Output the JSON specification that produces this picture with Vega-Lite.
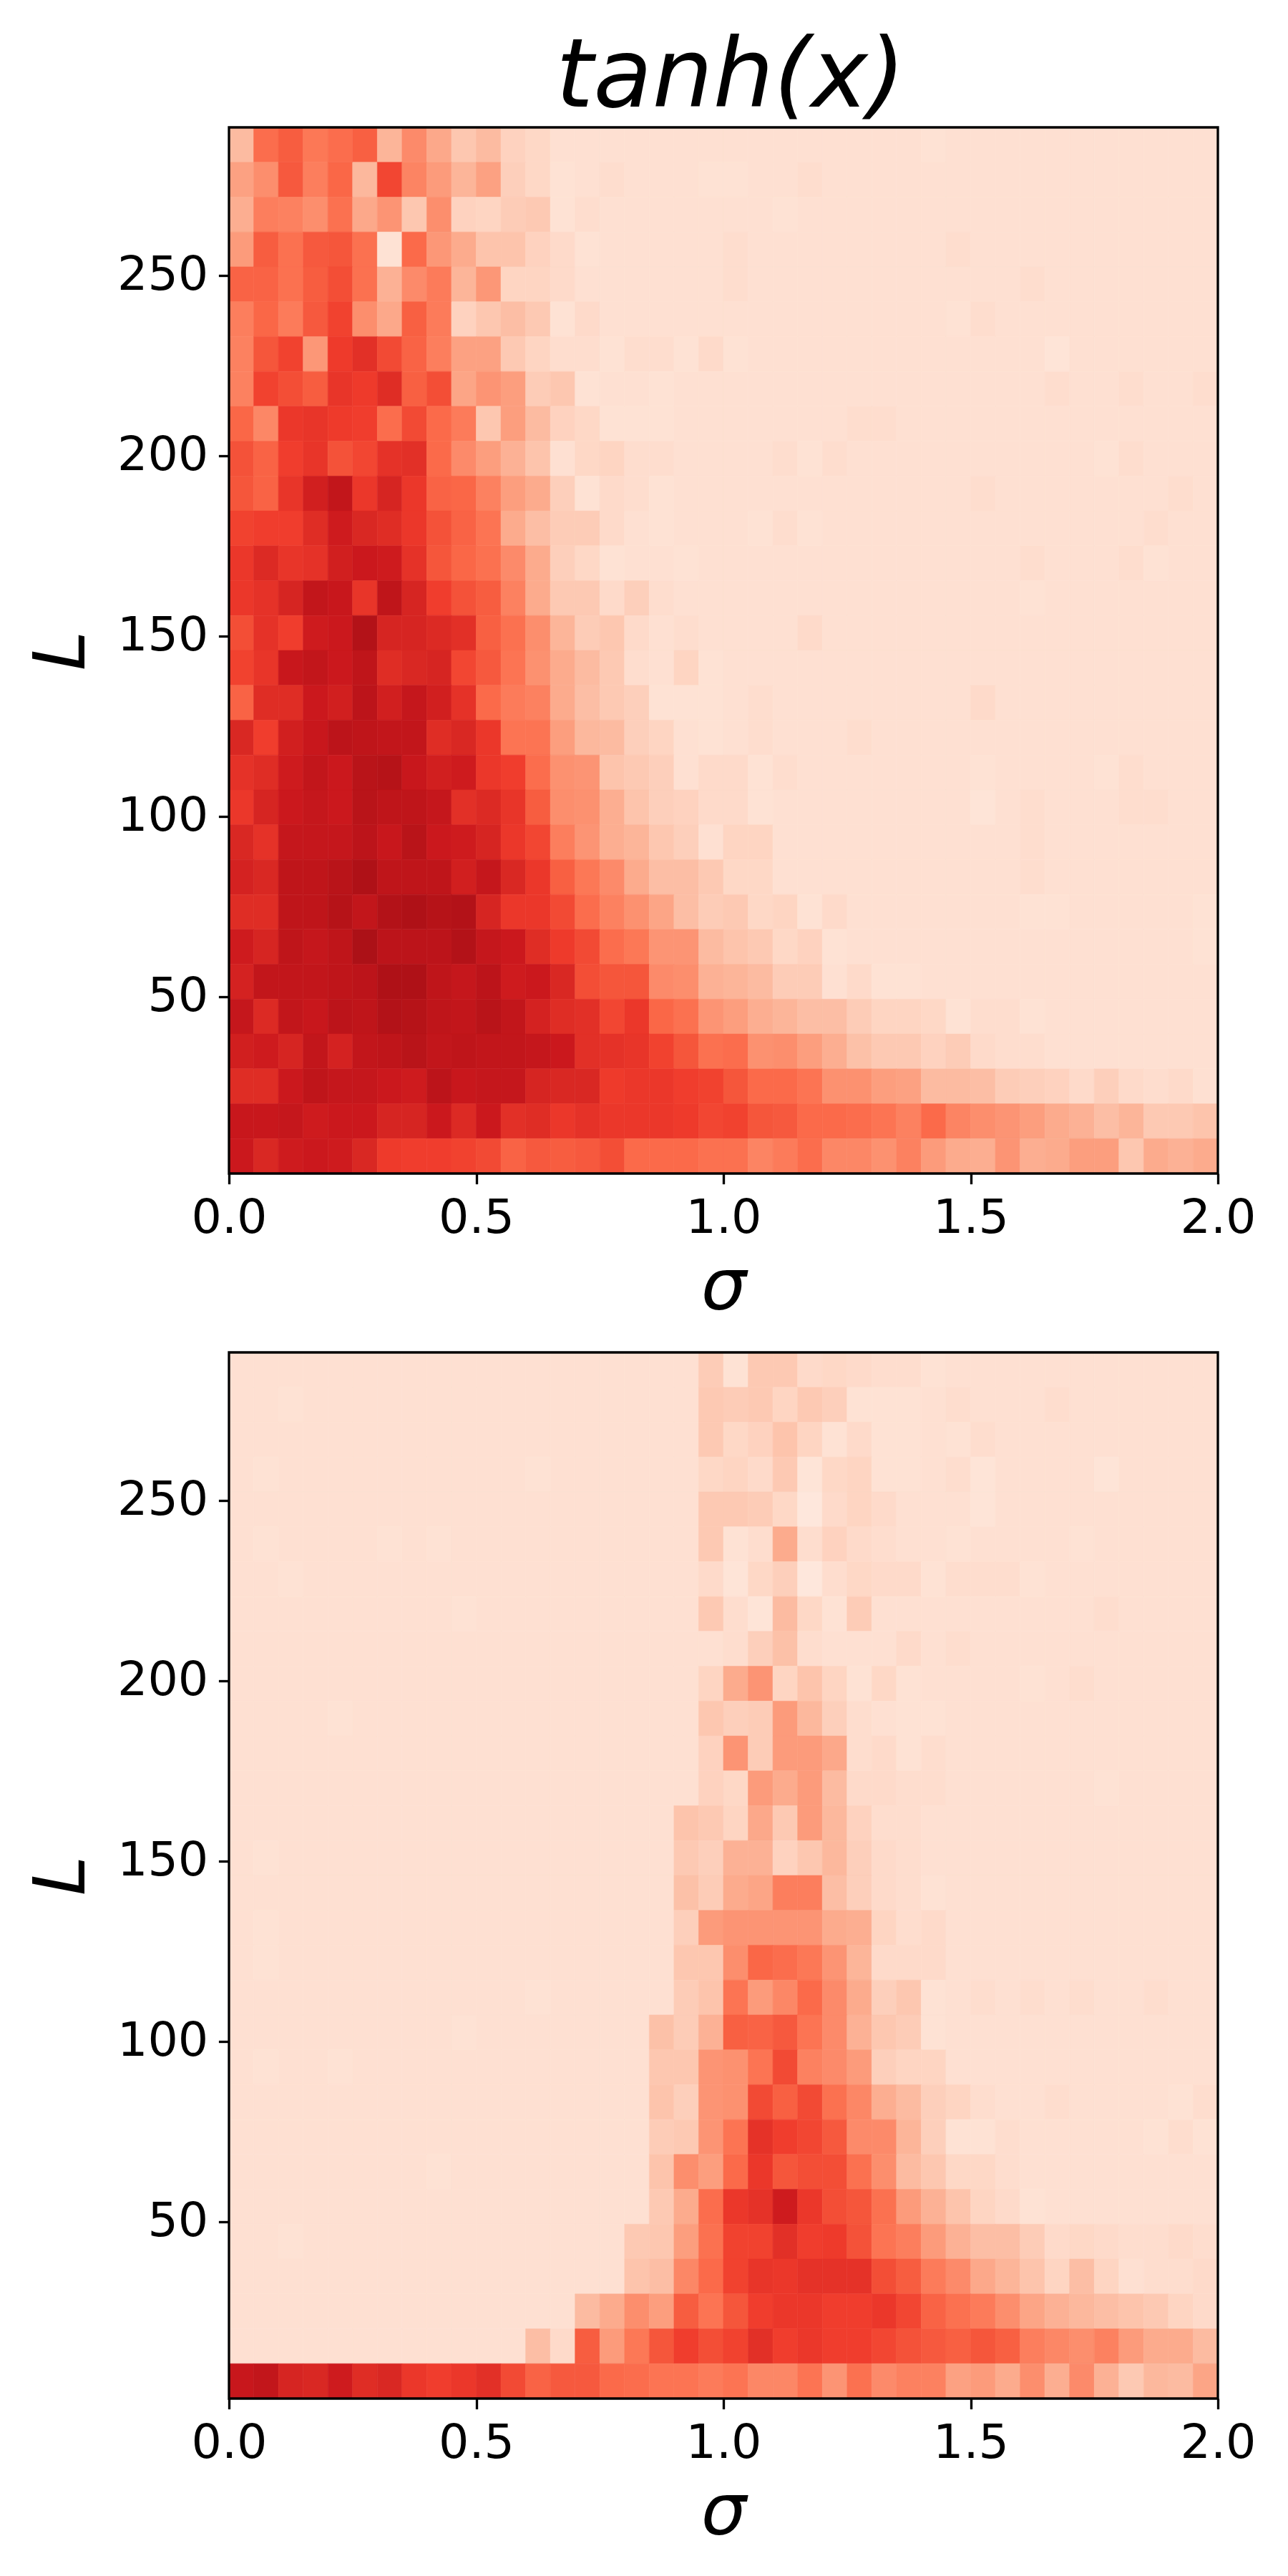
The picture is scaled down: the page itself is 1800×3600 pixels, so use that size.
{"$schema":"https://vega.github.io/schema/vega-lite/v6.json","background":"white","padding":{"left":37,"top":42,"right":20,"bottom":40},"bounds":"flush","spacing":250,
"config":{"view":{"stroke":null},"font":"DejaVu Sans","axis":{"grid":false,"domain":false,"ticks":true,"tickColor":"black","tickSize":14.6,"tickWidth":3.33,"labelFont":"DejaVu Sans","labelFontSize":66.7,"labelColor":"black","labelPadding":14.6,"labelFlush":false,"labelOverlap":false,"titleFont":"DejaVu Sans","titleFontStyle":"italic","titleFontWeight":"normal","titleFontSize":100,"titleColor":"black","zindex":1}},
"datasets":{"sigma":[{"k":1,"s0":[0,0.05,0.1,0.15,0.2,0.25,0.3,0.35,0.4,0.45,0.5,0.55,0.6,0.65,0.7,0.75,0.8,0.85,0.9,0.95,1,1.05,1.1,1.15,1.2,1.25,1.3,1.35,1.4,1.45,1.5,1.55,1.6,1.65,1.7,1.75,1.8,1.85,1.9,1.95],"s1":[0.05,0.1,0.15,0.2,0.25,0.3,0.35,0.4,0.45,0.5,0.55,0.6,0.65,0.7,0.75,0.8,0.85,0.9,0.95,1,1.05,1.1,1.15,1.2,1.25,1.3,1.35,1.4,1.45,1.5,1.55,1.6,1.65,1.7,1.75,1.8,1.85,1.9,1.95,2]}],
"cells":[
{"p":"t","k":1,"L0":281.33,"L1":291,"v":[25,49,54,46,49,53,27,40,31,21,25,17,15,12,12,12,12,12,12,12,12,12,12,12,12,12,12,12,11,12,12,12,12,12,12,12,12,12,12,12]},
{"p":"t","k":1,"L0":271.67,"L1":281.33,"v":[33,39,55,44,51,26,60,42,35,27,33,18,15,11,12,13,12,12,12,11,11,12,12,13,12,12,12,12,12,12,12,12,12,12,12,12,12,12,12,12]},
{"p":"t","k":1,"L0":262,"L1":271.67,"v":[29,44,43,39,48,31,37,21,39,17,16,19,20,11,13,12,12,12,12,12,12,12,11,12,12,12,12,12,12,12,12,12,12,12,12,12,12,12,12,12]},
{"p":"t","k":1,"L0":252.33,"L1":262,"v":[35,54,48,55,56,48,11,50,36,30,22,22,17,14,11,12,12,12,12,12,13,12,12,12,12,12,12,12,12,13,12,12,12,12,12,12,12,12,12,12]},
{"p":"t","k":1,"L0":242.67,"L1":252.33,"v":[52,52,48,54,58,48,28,40,45,27,36,16,16,14,12,12,12,12,12,12,13,12,12,12,12,12,12,12,12,12,12,12,13,12,12,12,12,12,12,12]},
{"p":"t","k":1,"L0":233,"L1":242.67,"v":[44,51,45,55,61,39,31,53,45,17,21,24,20,11,14,12,12,12,12,12,12,12,12,12,12,12,12,12,12,11,13,12,12,12,12,12,12,12,12,12]},
{"p":"t","k":1,"L0":223.33,"L1":233,"v":[43,56,61,36,63,67,59,52,44,33,33,20,16,13,13,11,13,13,11,14,11,12,12,12,12,12,12,12,12,12,12,12,12,10,12,12,12,12,12,12]},
{"p":"t","k":1,"L0":213.67,"L1":223.33,"v":[43,61,58,54,65,63,68,53,58,32,37,34,19,21,11,12,12,11,12,12,12,12,12,12,12,12,12,12,12,12,12,12,12,13,12,12,13,12,12,13]},
{"p":"t","k":1,"L0":204,"L1":213.67,"v":[51,41,64,65,63,62,49,59,50,45,21,34,25,17,15,11,11,11,12,12,12,12,12,12,12,13,13,12,12,12,12,12,12,12,12,12,12,12,12,12]},
{"p":"t","k":1,"L0":194.33,"L1":204,"v":[57,52,62,65,57,60,66,67,50,40,34,28,22,12,15,16,13,13,12,12,12,12,13,11,13,12,12,12,12,12,12,12,12,12,12,11,13,12,12,12]},
{"p":"t","k":1,"L0":184.67,"L1":194.33,"v":[56,52,65,73,78,64,71,64,52,51,43,34,30,18,11,14,13,11,12,12,12,12,12,12,12,12,12,12,12,12,13,12,12,12,12,12,12,12,13,12]},
{"p":"t","k":1,"L0":175,"L1":184.67,"v":[61,62,62,68,74,70,68,64,57,52,47,30,24,19,19,14,12,11,12,12,12,11,13,11,12,12,12,12,12,12,12,12,12,12,12,12,12,13,12,12]},
{"p":"t","k":1,"L0":165.33,"L1":175,"v":[64,69,65,66,73,75,74,66,56,51,48,40,30,18,15,11,12,12,11,12,12,12,12,12,12,12,12,12,12,12,12,12,13,12,12,12,13,11,12,12]},
{"p":"t","k":1,"L0":155.67,"L1":165.33,"v":[64,66,71,78,76,65,79,71,62,57,54,43,30,20,20,14,18,13,12,12,12,12,12,12,12,12,12,12,12,12,12,12,11,12,12,12,12,12,12,12]},
{"p":"t","k":1,"L0":146,"L1":155.67,"v":[58,66,62,74,75,83,71,71,69,67,53,48,39,27,19,21,14,12,13,12,12,12,12,14,12,12,12,12,12,12,12,12,12,12,12,12,12,12,12,12]},
{"p":"t","k":1,"L0":136.33,"L1":146,"v":[61,65,76,78,75,79,68,70,71,60,55,47,38,30,25,20,13,12,16,11,12,12,12,12,12,12,12,12,12,12,12,12,12,12,12,12,12,12,12,12]},
{"p":"t","k":1,"L0":126.67,"L1":136.33,"v":[52,68,68,75,73,80,73,77,73,66,50,45,43,30,24,20,18,11,11,11,12,13,12,12,12,12,12,12,12,12,14,12,12,12,12,12,12,12,12,12]},
{"p":"t","k":1,"L0":117,"L1":126.67,"v":[70,62,73,76,80,79,78,78,68,70,64,47,47,34,26,25,18,16,12,11,12,13,12,12,12,13,12,12,12,12,12,12,12,12,12,12,12,12,12,12]},
{"p":"t","k":1,"L0":107.33,"L1":117,"v":[66,68,74,78,75,81,82,76,73,74,64,62,49,38,37,22,20,18,12,14,14,11,13,12,12,12,12,12,12,12,11,12,12,12,12,11,13,12,12,12]},
{"p":"t","k":1,"L0":97.67,"L1":107.33,"v":[64,71,75,77,75,81,79,79,77,67,69,65,54,39,38,29,22,18,17,14,14,11,12,12,12,12,12,12,12,12,10,12,13,12,12,12,13,13,12,12]},
{"p":"t","k":1,"L0":88,"L1":97.67,"v":[70,66,77,77,77,80,76,81,75,74,71,64,60,44,37,29,27,21,18,12,16,16,12,12,12,12,12,12,12,12,12,12,13,12,12,12,12,12,12,12]},
{"p":"t","k":1,"L0":78.33,"L1":88,"v":[72,70,79,79,81,84,79,79,79,73,77,70,64,53,46,40,30,24,24,20,15,15,12,12,12,12,12,12,12,12,12,12,13,12,12,12,12,12,12,12]},
{"p":"t","k":1,"L0":68.67,"L1":78.33,"v":[68,68,79,79,82,78,83,84,82,83,71,64,64,59,49,43,38,32,24,19,20,15,16,11,14,12,12,12,12,12,12,12,11,11,12,12,12,12,12,11]},
{"p":"t","k":1,"L0":59,"L1":68.67,"v":[74,71,79,77,79,85,80,80,80,83,77,75,68,63,59,49,46,37,37,25,22,20,15,17,11,12,12,12,12,12,12,12,12,12,12,12,12,12,12,11]},
{"p":"t","k":1,"L0":49.33,"L1":59,"v":[72,78,78,78,79,80,84,84,79,77,80,74,75,70,58,56,56,40,39,28,27,25,19,19,12,14,11,11,12,12,12,12,12,12,12,12,12,12,12,12]},
{"p":"t","k":1,"L0":39.67,"L1":49.33,"v":[77,69,78,76,80,79,83,82,79,78,81,78,72,68,67,60,64,51,48,37,34,29,27,24,24,19,16,16,15,11,13,13,11,12,12,12,12,12,12,12]},
{"p":"t","k":1,"L0":30,"L1":39.67,"v":[73,74,71,78,72,78,79,81,78,79,78,78,77,75,67,66,65,61,56,48,49,38,39,34,29,23,20,20,17,19,14,13,13,12,12,12,12,12,12,12]},
{"p":"t","k":1,"L0":20.33,"L1":30,"v":[68,68,75,79,77,77,75,74,80,76,77,77,71,70,70,63,64,64,62,61,56,50,50,47,38,38,34,33,25,25,24,19,18,17,14,18,14,13,14,12]},
{"p":"t","k":1,"L0":10.67,"L1":20.33,"v":[76,76,77,74,75,75,71,71,75,69,75,67,68,64,66,64,64,64,63,60,61,56,55,50,50,49,47,43,50,42,39,37,34,30,28,24,27,20,20,22]},
{"p":"t","k":1,"L0":1,"L1":10.67,"v":[75,70,74,75,74,70,63,62,62,61,59,52,55,54,55,58,50,50,50,48,48,42,45,49,41,41,38,43,35,30,29,37,29,30,34,34,21,30,28,30]},
{"p":"b","k":1,"L0":281.33,"L1":291,"v":[12,12,12,12,12,12,12,12,12,12,12,12,12,12,12,12,12,12,12,19,11,20,20,14,15,14,13,13,11,12,12,12,12,12,12,12,12,12,12,12]},
{"p":"b","k":1,"L0":271.67,"L1":281.33,"v":[12,12,11,12,12,12,12,12,12,12,12,12,12,12,12,12,12,12,12,20,19,20,16,20,18,11,11,11,12,13,12,12,12,13,12,12,12,12,12,12]},
{"p":"b","k":1,"L0":262,"L1":271.67,"v":[12,12,12,12,12,12,12,12,12,12,12,12,12,12,12,12,12,12,12,20,15,17,22,16,11,14,11,11,12,11,13,12,12,12,12,12,12,12,12,12]},
{"p":"b","k":1,"L0":252.33,"L1":262,"v":[12,11,12,12,12,12,12,12,12,12,12,12,11,12,12,12,12,12,12,15,16,14,20,10,15,16,11,11,12,13,10,12,12,12,12,10,12,12,12,12]},
{"p":"b","k":1,"L0":242.67,"L1":252.33,"v":[12,12,12,12,12,12,12,12,12,12,12,12,12,12,12,12,12,12,12,20,20,19,15,8,14,16,14,12,12,12,10,12,12,12,12,12,12,12,12,12]},
{"p":"b","k":1,"L0":233,"L1":242.67,"v":[12,11,12,12,12,12,11,12,11,12,12,12,12,12,12,12,12,12,12,20,11,13,30,13,17,14,13,12,12,11,12,12,12,12,11,12,12,12,12,12]},
{"p":"b","k":1,"L0":223.33,"L1":233,"v":[12,12,11,12,12,12,12,12,12,12,12,12,12,12,12,12,12,12,12,14,10,15,18,8,13,15,14,14,11,13,13,13,11,12,12,12,12,12,12,12]},
{"p":"b","k":1,"L0":213.67,"L1":223.33,"v":[12,12,12,12,12,12,12,12,12,11,12,12,12,12,12,12,12,12,12,20,13,10,25,15,11,19,12,12,12,12,12,12,12,12,12,13,12,12,12,12]},
{"p":"b","k":1,"L0":204,"L1":213.67,"v":[12,12,12,12,12,12,12,12,12,12,12,12,12,12,12,12,12,12,12,12,13,18,23,13,12,12,12,14,12,13,12,12,12,12,12,12,12,12,12,12]},
{"p":"b","k":1,"L0":194.33,"L1":204,"v":[12,12,12,12,12,12,12,12,12,12,12,12,12,12,12,12,12,12,12,16,30,37,16,22,16,11,15,11,12,12,12,12,11,12,13,12,12,12,12,12]},
{"p":"b","k":1,"L0":184.67,"L1":194.33,"v":[12,12,12,12,11,12,12,12,12,12,12,12,12,12,12,12,12,12,12,21,18,19,35,26,18,13,12,11,11,12,12,12,12,12,12,12,12,12,12,12]},
{"p":"b","k":1,"L0":175,"L1":184.67,"v":[12,12,12,12,12,12,12,12,12,12,12,12,12,12,12,12,12,12,12,17,37,19,35,35,31,13,14,11,13,12,12,12,12,12,12,12,12,12,12,12]},
{"p":"b","k":1,"L0":165.33,"L1":175,"v":[12,12,12,12,12,12,12,12,12,12,12,12,12,12,12,12,12,12,12,17,15,35,30,35,25,14,14,13,13,12,12,12,12,12,12,11,12,12,12,12]},
{"p":"b","k":1,"L0":155.67,"L1":165.33,"v":[12,12,12,12,12,12,12,12,12,12,12,12,12,12,12,12,12,12,22,20,16,31,20,35,26,17,13,13,12,12,12,12,12,12,12,12,12,12,12,12]},
{"p":"b","k":1,"L0":146,"L1":155.67,"v":[12,11,12,12,12,12,12,12,12,12,12,12,12,12,12,12,12,12,20,18,28,28,17,21,26,18,14,13,12,12,12,12,12,12,12,12,12,12,12,12]},
{"p":"b","k":1,"L0":136.33,"L1":146,"v":[12,12,12,12,12,12,12,12,12,12,12,12,12,12,12,12,12,12,23,19,30,32,44,44,24,18,14,13,11,12,12,12,12,12,12,12,12,12,12,12]},
{"p":"b","k":1,"L0":126.67,"L1":136.33,"v":[12,11,12,12,12,12,12,12,12,12,12,12,12,12,12,12,12,12,18,35,37,37,37,37,30,29,16,13,14,12,12,12,12,12,12,12,12,12,12,12]},
{"p":"b","k":1,"L0":117,"L1":126.67,"v":[12,11,12,12,12,12,12,12,12,12,12,12,12,12,12,12,12,12,21,21,39,51,49,46,37,27,14,14,14,12,12,12,12,12,12,12,12,12,12,12]},
{"p":"b","k":1,"L0":107.33,"L1":117,"v":[12,12,12,12,12,12,12,12,12,12,12,12,11,12,12,12,12,12,19,22,47,35,41,50,40,30,18,21,11,12,13,12,13,12,13,12,12,13,12,12]},
{"p":"b","k":1,"L0":97.67,"L1":107.33,"v":[12,12,12,12,12,12,12,12,12,11,12,12,12,12,12,12,12,23,19,28,53,52,55,47,40,28,21,19,11,12,12,12,12,12,12,12,12,12,12,12]},
{"p":"b","k":1,"L0":88,"L1":97.67,"v":[12,11,12,12,11,12,12,12,12,12,12,12,12,12,12,12,12,21,21,37,38,47,59,43,40,35,18,16,16,12,12,12,12,12,12,12,12,12,12,12]},
{"p":"b","k":1,"L0":78.33,"L1":88,"v":[12,12,12,12,12,12,12,12,12,12,12,12,12,12,12,12,12,22,18,37,38,59,53,59,48,41,29,25,18,16,13,12,12,13,12,12,12,12,11,13]},
{"p":"b","k":1,"L0":68.67,"L1":78.33,"v":[12,12,12,12,12,12,12,12,12,12,12,12,12,12,12,12,12,19,20,37,47,66,62,60,55,40,40,27,18,11,11,13,12,12,12,12,12,11,13,11]},
{"p":"b","k":1,"L0":59,"L1":68.67,"v":[12,12,12,12,12,12,12,12,11,12,12,12,12,12,12,12,12,22,39,34,50,64,56,58,58,48,39,25,21,15,15,13,12,12,12,12,12,12,12,12]},
{"p":"b","k":1,"L0":49.33,"L1":59,"v":[12,12,12,12,12,12,12,12,12,12,12,12,12,12,12,12,12,20,30,49,64,66,74,64,58,56,48,35,28,22,16,14,11,12,12,12,12,12,12,12]},
{"p":"b","k":1,"L0":39.67,"L1":49.33,"v":[12,12,11,12,12,12,12,12,12,12,12,12,12,12,12,12,20,21,34,48,61,61,67,62,63,57,47,44,35,28,24,24,19,14,15,14,13,13,14,13]},
{"p":"b","k":1,"L0":30,"L1":39.67,"v":[12,12,12,12,12,12,12,12,12,12,12,12,12,12,12,12,22,24,41,50,61,65,64,66,66,66,58,54,45,40,31,27,22,16,24,16,12,13,13,14]},
{"p":"b","k":1,"L0":20.33,"L1":30,"v":[12,12,12,12,12,12,12,12,12,12,12,12,12,12,25,30,39,34,54,47,56,62,64,64,62,62,64,60,52,48,45,39,32,28,26,24,22,20,16,14]},
{"p":"b","k":1,"L0":10.67,"L1":20.33,"v":[12,12,12,12,12,12,12,12,12,12,12,12,24,14,54,35,46,56,62,58,61,67,62,64,62,62,60,57,55,53,56,53,44,41,39,43,35,30,30,25]},
{"p":"b","k":1,"L0":1,"L1":10.67,"v":[76,78,71,70,74,68,70,64,62,64,67,59,52,55,55,50,49,47,47,45,47,41,41,47,37,48,40,43,43,33,35,30,39,29,40,28,20,26,25,32]}
]},
"vconcat":[
{"width":1382,"height":1462,"title":{"text":"tanh(x)","font":"DejaVu Sans","fontStyle":"italic","fontWeight":"normal","fontSize":134,"color":"black","anchor":"middle","baseline":"alphabetic","offset":-107,"dx":10},
"layer":[
{"data":{"name":"cells"},"transform":[{"filter":"datum.p==='t'"},{"lookup":"k","from":{"data":{"name":"sigma"},"key":"k","fields":["s0","s1"]}},{"flatten":["s0","s1","v"]}],
"mark":{"type":"rect","strokeWidth":0.6},
"encoding":{"x":{"field":"s0","type":"quantitative","scale":{"domain":[0,2],"nice":false,"zero":false},"axis":{"values":[0,0.5,1,1.5,2],"format":".1f","title":"σ","titlePadding":15}},"x2":{"field":"s1"},
"y":{"field":"L0","type":"quantitative","scale":{"domain":[1,291],"nice":false,"zero":false},"axis":{"values":[50,100,150,200,250],"title":"L","titlePadding":25}},"y2":{"field":"L1"},
"color":{"field":"v","type":"quantitative","legend":null,"scale":{"domain":[0,12,25,37.5,50,62.5,75,87.5,100],"range":["#fff5f0","#fee0d2","#fcbba1","#fc9272","#fb6a4a","#ef3b2c","#cb181d","#a50f15","#67000d"]}},
"stroke":{"field":"v","type":"quantitative","legend":null,"scale":{"domain":[0,12,25,37.5,50,62.5,75,87.5,100],"range":["#fff5f0","#fee0d2","#fcbba1","#fc9272","#fb6a4a","#ef3b2c","#cb181d","#a50f15","#67000d"]}}}},
{"data":{"values":[{"s0":0,"s1":2,"L0":1,"L1":291}]},"mark":{"type":"rect","fillOpacity":0,"stroke":"black","strokeWidth":3.33},"encoding":{"x":{"field":"s0","type":"quantitative"},"x2":{"field":"s1"},"y":{"field":"L0","type":"quantitative"},"y2":{"field":"L1"}}}
]},
{"width":1382,"height":1462,
"layer":[
{"data":{"name":"cells"},"transform":[{"filter":"datum.p==='b'"},{"lookup":"k","from":{"data":{"name":"sigma"},"key":"k","fields":["s0","s1"]}},{"flatten":["s0","s1","v"]}],
"mark":{"type":"rect","strokeWidth":0.6},
"encoding":{"x":{"field":"s0","type":"quantitative","scale":{"domain":[0,2],"nice":false,"zero":false},"axis":{"values":[0,0.5,1,1.5,2],"format":".1f","title":"σ","titlePadding":15}},"x2":{"field":"s1"},
"y":{"field":"L0","type":"quantitative","scale":{"domain":[1,291],"nice":false,"zero":false},"axis":{"values":[50,100,150,200,250],"title":"L","titlePadding":25}},"y2":{"field":"L1"},
"color":{"field":"v","type":"quantitative","legend":null,"scale":{"domain":[0,12,25,37.5,50,62.5,75,87.5,100],"range":["#fff5f0","#fee0d2","#fcbba1","#fc9272","#fb6a4a","#ef3b2c","#cb181d","#a50f15","#67000d"]}},
"stroke":{"field":"v","type":"quantitative","legend":null,"scale":{"domain":[0,12,25,37.5,50,62.5,75,87.5,100],"range":["#fff5f0","#fee0d2","#fcbba1","#fc9272","#fb6a4a","#ef3b2c","#cb181d","#a50f15","#67000d"]}}}},
{"data":{"values":[{"s0":0,"s1":2,"L0":1,"L1":291}]},"mark":{"type":"rect","fillOpacity":0,"stroke":"black","strokeWidth":3.33},"encoding":{"x":{"field":"s0","type":"quantitative"},"x2":{"field":"s1"},"y":{"field":"L0","type":"quantitative"},"y2":{"field":"L1"}}}
]}
]}
